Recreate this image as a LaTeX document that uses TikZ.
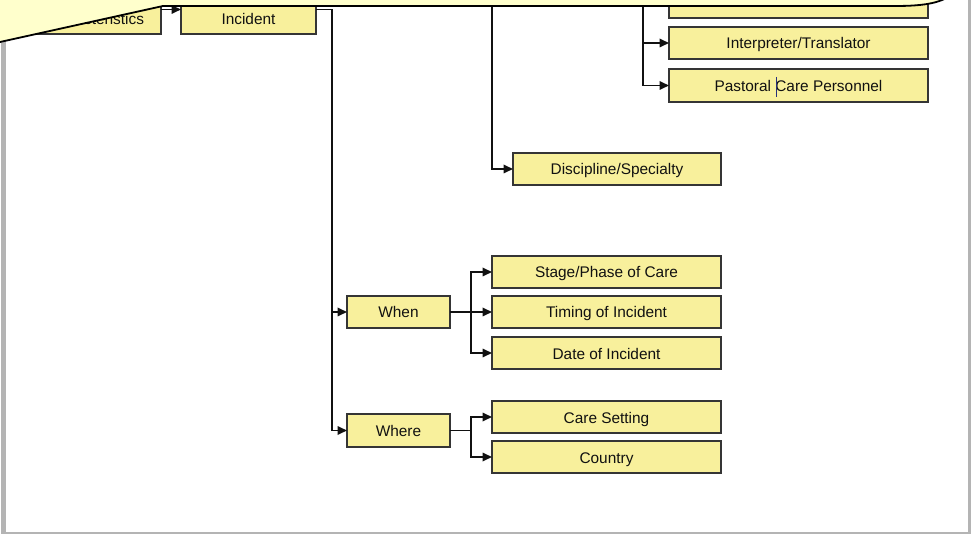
\documentclass[tikz,border=0pt]{standalone}
\usepackage{fontspec}
\setmainfont{Liberation Sans}
\usetikzlibrary{arrows.meta}
\definecolor{boxfill}{HTML}{F8F09C}
\definecolor{notefill}{HTML}{FFFFCC}
\definecolor{framegray}{HTML}{B4B4B4}
\definecolor{ink}{HTML}{111111}
\definecolor{cursorblue}{HTML}{28307A}
\begin{document}
\begin{tikzpicture}[x=1bp,y=-1bp,
  box/.style={draw=ink!85, line width=1.4bp, fill=boxfill, inner sep=0pt,
    outer sep=0pt, align=center, text=ink, text height=12bp, text depth=0bp,
    font=\fontsize{15.4bp}{18bp}\selectfont},
  lowlabel/.style={text height=31bp, text depth=0bp},
  conn/.style={draw=ink, line width=1.7bp, -{Triangle[length=9.5bp,width=8.5bp]}},
  link/.style={draw=ink, line width=1.7bp},
  note/.style={fill=notefill, draw=black, line width=1.8bp, line join=round},
]
\useasboundingbox (0,0) rectangle (971,534);
\clip (0,0) rectangle (971,534);
\fill[white] (0,0) rectangle (971,534);

% page frame
\fill[framegray] (1,30) rectangle (6,534);
\fill[framegray] (1,531.5) rectangle (970.5,534);
\fill[framegray] (967.5,0) rectangle (970.5,534);

% boxes
\node[box, lowlabel, minimum width=188bp, minimum height=49bp, text width=154bp, align=right] (A) at (67,9.5) {Characteristics};
\node[box, lowlabel, minimum width=135bp, minimum height=49bp] (B) at (248.5,9.5) {Incident};
\node[box, minimum width=259bp, minimum height=32bp] (R0) at (798.5,2) {};
\node[box, minimum width=259bp, minimum height=32bp] (Interp) at (798.5,43) {Interpreter/Translator};
\node[box, minimum width=259bp, minimum height=33bp] (Past) at (798.5,85.5) {Pastoral Care Personnel};
\node[box, minimum width=208bp, minimum height=32bp] (Disc) at (617,169) {Discipline/Specialty};
\node[box, minimum width=103bp, minimum height=32bp] (When) at (398.5,312) {When};
\node[box, minimum width=229bp, minimum height=32bp] (Stage) at (606.5,272) {Stage/Phase of Care};
\node[box, minimum width=229bp, minimum height=32bp] (Timing) at (606.5,312) {Timing of Incident};
\node[box, minimum width=229bp, minimum height=32bp] (Date) at (606.5,353) {Date of Incident};
\node[box, minimum width=103bp, minimum height=33bp] (Where) at (398.5,430.5) {Where};
\node[box, minimum width=229bp, minimum height=32bp] (Care) at (606.5,417) {Care Setting};
\node[box, minimum width=229bp, minimum height=32bp] (Country) at (606.5,457) {Country};

% branch points
\coordinate (trunk) at (332,9.5);
\coordinate (whoA) at (492,-30);
\coordinate (whoB) at (643,-30);
\coordinate (whenFork) at (471,312);
\coordinate (whereFork) at (471,430.5);

% connectors
\draw[conn] (A.east) -- (B.west);
\draw[link] (B.east) -- (trunk);
\draw[conn] (trunk) |- (When.west);
\draw[conn] (trunk) |- (Where.west);
\draw[conn] (whoA) |- (Disc.west);
\draw[conn] (whoB) |- (R0.west);
\draw[conn] (whoB) |- (Interp.west);
\draw[conn] (whoB) |- (Past.west);
\draw[link] (When.east) -- (whenFork);
\draw[conn] (whenFork) |- (Stage.west);
\draw[conn] (whenFork) -- (Timing.west);
\draw[conn] (whenFork) |- (Date.west);
\draw[link] (Where.east) -- (whereFork);
\draw[conn] (whereFork) |- (Care.west);
\draw[conn] (whereFork) |- (Country.west);

% text cursor
\draw[cursorblue, line width=0.9bp] (776,77) -- (776,97);

% callout overlay
\path[note] (-60,55.25) -- (163,6) -- (895,6)
  .. controls (925,6) and (943,3) .. (955,-8) -- (960,-60) -- (-120,-60) -- cycle;
\end{tikzpicture}
\end{document}
